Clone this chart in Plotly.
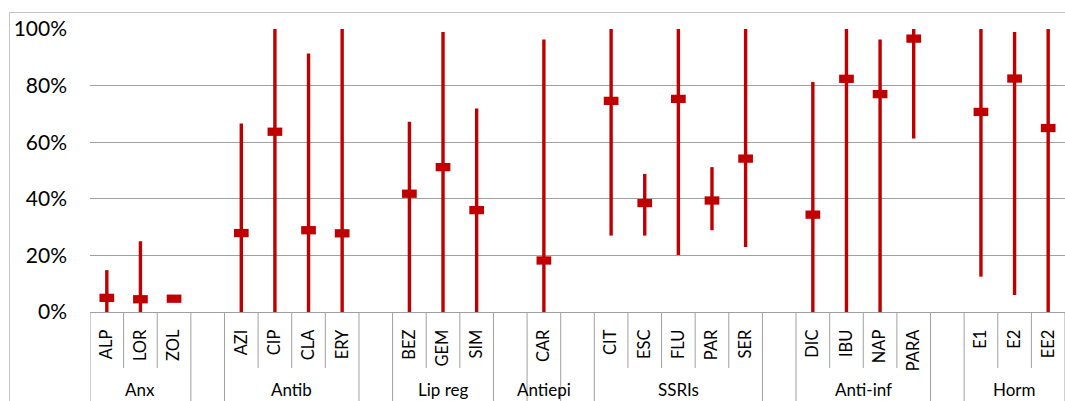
import plotly.graph_objects as go

# Drug classes and their members, in display order
class_names = ["Anx", "Antib", "Lip reg", "Antiepi", "SSRIs", "Anti-inf", "Horm"]
class_members = [
    ["ALP", "LOR", "ZOL"],
    ["AZI", "CIP", "CLA", "ERY"],
    ["BEZ", "GEM", "SIM"],
    ["CAR"],
    ["CIT", "ESC", "FLU", "PAR", "SER"],
    ["DIC", "IBU", "NAP", "PARA"],
    ["E1", "E2", "EE2"],
]

# Per-drug statistics (fraction): central value, minimum, maximum
drugs = ["ALP", "LOR", "ZOL", "AZI", "CIP", "CLA", "ERY", "BEZ", "GEM", "SIM",
         "CAR", "CIT", "ESC", "FLU", "PAR", "SER", "DIC", "IBU", "NAP", "PARA",
         "E1", "E2", "EE2"]
central = [0.050, 0.045, 0.047, 0.279, 0.637, 0.289, 0.278, 0.418, 0.512, 0.360,
           0.182, 0.746, 0.385, 0.753, 0.394, 0.542, 0.344, 0.824, 0.770, 0.966,
           0.707, 0.825, 0.650]
low = [0.0, 0.0, 0.042, 0.0, 0.0, 0.0, 0.0, 0.0, 0.0, 0.0,
       0.0, 0.270, 0.270, 0.201, 0.289, 0.230, 0.0, 0.0, 0.0, 0.613,
       0.125, 0.060, 0.0]
high = [0.148, 0.250, 0.052, 0.666, 1.0, 0.913, 1.0, 0.672, 0.989, 0.719,
        0.963, 1.0, 0.488, 1.0, 0.512, 1.0, 0.813, 1.0, 0.963, 1.0,
        1.0, 0.989, 1.0]

y_ticks = [0, 0.2, 0.4, 0.6, 0.8, 1.0]

RED = "#c00000"
GRID = "#a0a0a0"
FONT = "Lato"

# Build slot positions: each class followed by an empty separator slot
slot_labels = []
pos = {}
class_spans = []  # (first slot, last slot, name)
for ci, (name, members) in enumerate(zip(class_names, class_members)):
    start = len(slot_labels)
    for m in members:
        pos[m] = len(slot_labels)
        slot_labels.append(m)
    class_spans.append((start, len(slot_labels) - 1, name))
    if ci < len(class_names) - 1:
        slot_labels.append("")
n_slots = len(slot_labels)

# Range lines (min to max) for every drug
seg_x, seg_y = [], []
for d, lo, hi in zip(drugs, low, high):
    seg_x += [pos[d], pos[d], None]
    seg_y += [lo, hi, None]

fig = go.Figure()
fig.add_trace(go.Scatter(x=seg_x, y=seg_y, mode="lines",
                         line=dict(color=RED, width=3.4),
                         hoverinfo="skip", showlegend=False))
fig.add_trace(go.Scatter(x=[pos[d] for d in drugs], y=central, mode="markers",
                         marker=dict(symbol="line-ew", size=10.5, color=RED,
                                     line=dict(color=RED, width=8.3)),
                         cliponaxis=False, showlegend=False,
                         text=drugs, hovertemplate="%{text}: %{y:.0%}<extra></extra>"))

W, H = 1065, 401
L, R, T, B = 90, 0, 29, 89
plot_h = H - T - B
plot_w = W - L - R


def py(px):
    """Pixel row -> paper y."""
    return (H - B - px) / plot_h


def px_x(px):
    """Pixel column -> paper x."""
    return (px - L) / plot_w


shapes = []
# Slot dividers in the first label row; class boundaries run through both rows
boundaries = set()
for s, e, _ in class_spans:
    boundaries.add(s - 0.5)
    boundaries.add(e + 0.5)
for i in range(n_slots + 1):
    xb = i - 0.5
    bottom = py(420) if xb in boundaries else py(368)
    shapes.append(dict(type="line", xref="x", yref="paper", x0=xb, x1=xb,
                       y0=0, y1=bottom, line=dict(color=GRID, width=1)))
# Outer chart frame
shapes.append(dict(type="rect", xref="paper", yref="paper",
                   x0=px_x(9.5), x1=px_x(1080), y0=py(12.5), y1=py(430),
                   line=dict(color="#c4c4c4", width=1), fillcolor="rgba(0,0,0,0)",
                   layer="below"))

annotations = []
for s, e, name in class_spans:
    annotations.append(dict(x=(s + e) / 2, y=py(377), xref="x", yref="paper",
                            text=name, showarrow=False, yanchor="top",
                            xanchor="center",
                            font=dict(family=FONT, size=17, color="black")))

fig.update_layout(
    width=W, height=H,
    margin=dict(l=L, r=R, t=T, b=B, pad=0),
    paper_bgcolor="white", plot_bgcolor="white",
    showlegend=False,
    shapes=shapes, annotations=annotations,
    xaxis=dict(range=[-0.5, n_slots - 0.5], tickmode="array",
               tickvals=list(range(n_slots)), ticktext=slot_labels,
               tickangle=-90, ticks="", showgrid=False, zeroline=False,
               showline=True, linecolor=GRID, linewidth=1,
               ticklabelstandoff=10,
               tickfont=dict(family=FONT, size=16.5, color="black")),
    yaxis=dict(range=[0, 1], tickmode="array", tickvals=y_ticks,
               tickformat=".0%", showgrid=True, gridcolor=GRID, gridwidth=1,
               zeroline=False, showline=False, ticks="",
               ticklabelstandoff=22,
               tickfont=dict(family=FONT, size=21, color="black")),
)

fig.write_html("out.html")
